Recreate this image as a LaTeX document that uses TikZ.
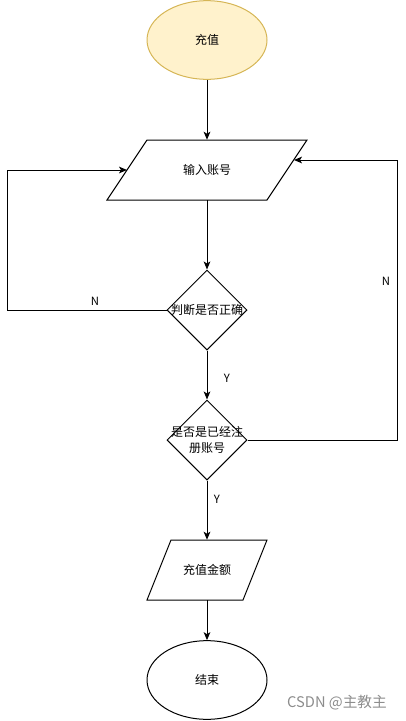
\documentclass[tikz,border=0pt]{standalone}
\usepackage{fontspec}
\setmainfont{Noto Sans CJK SC}
\newfontfamily\cjk{Noto Sans CJK SC}
\usetikzlibrary{shapes.geometric,arrows.meta}
\definecolor{startfill}{HTML}{FFF2CC}
\definecolor{startdraw}{HTML}{D6B656}
\begin{document}
\begin{tikzpicture}[x=0.75pt,y=-0.75pt,
  every node/.style={font=\cjk\fontsize{9pt}{11pt}\selectfont},
  shapeline/.style={draw=black, line width=0.75pt},
  conn/.style={draw=black, line width=0.75pt, -{Stealth[length=6pt,width=5pt,inset=1.5pt]}},
  oval/.style={ellipse, shapeline, minimum width=90pt, minimum height=59pt, inner sep=0pt},
  decision/.style={diamond, shapeline, minimum width=60pt, minimum height=60pt, inner sep=0pt, aspect=1},
  lbl/.style={font=\cjk\fontsize{8.5pt}{10pt}\selectfont, inner sep=0pt},
]
\useasboundingbox (0,0) rectangle (406,721);

% start
\node[oval, draw=startdraw, fill=startfill] (start) at (207,40) {充值};

% input parallelogram
\coordinate (p1tl) at (147,140);
\coordinate (p1tr) at (307,140);
\coordinate (p1br) at (267,200);
\coordinate (p1bl) at (107,200);
\draw[shapeline] (p1tl) -- (p1tr) -- (p1br) -- (p1bl) -- cycle;
\node[minimum width=120pt, minimum height=45pt, inner sep=0pt] (input) at (207,170) {输入账号};
\coordinate (p1left) at (127,170);
\coordinate (p1right) at (294,160);

% decision 1
\node[decision, label={[inner sep=0pt]center:判断是否正确}] (check) at (207,310) {};

% decision 2
\node[decision, label={[inner sep=0pt, align=center, font=\cjk\fontsize{9pt}{12pt}\selectfont]center:是否是已经注\\册账号}] (reg) at (207,440) {};

% amount parallelogram
\coordinate (p2tl) at (171,540);
\coordinate (p2tr) at (267,540);
\coordinate (p2br) at (243,600);
\coordinate (p2bl) at (147,600);
\draw[shapeline] (p2tl) -- (p2tr) -- (p2br) -- (p2bl) -- cycle;
\node[minimum width=72pt, minimum height=45pt, inner sep=0pt] (amount) at (207,570) {充值金额};

% end
\node[oval] (end) at (207,680) {结束};

% connectors
\draw[conn] (start.south) -- (input.north);
\draw[conn] (input.south) -- (check.north);
\draw[conn] (check.west) -- (7,310) -- (7,170) -- (p1left);
\draw[conn] (check.south) -- (reg.north);
\draw[conn] (reg.east) -- (397,440) -- (397,160) -- (p1right);
\draw[conn] (reg.south) -- (amount.north);
\draw[conn] (amount.south) -- (end.north);

% edge labels
\node[lbl] (n1) at (95,301) {N};
\node[lbl] (y1) at (227,378) {Y};
\node[lbl] (y2) at (217,499) {Y};
\node[lbl] (n2) at (386,281) {N};

% watermark
\node[font=\cjk\fontsize{11pt}{13pt}\selectfont, text=black!45, inner sep=0pt] (wm) at (337,703) {CSDN @主教主};
\end{tikzpicture}
\end{document}
